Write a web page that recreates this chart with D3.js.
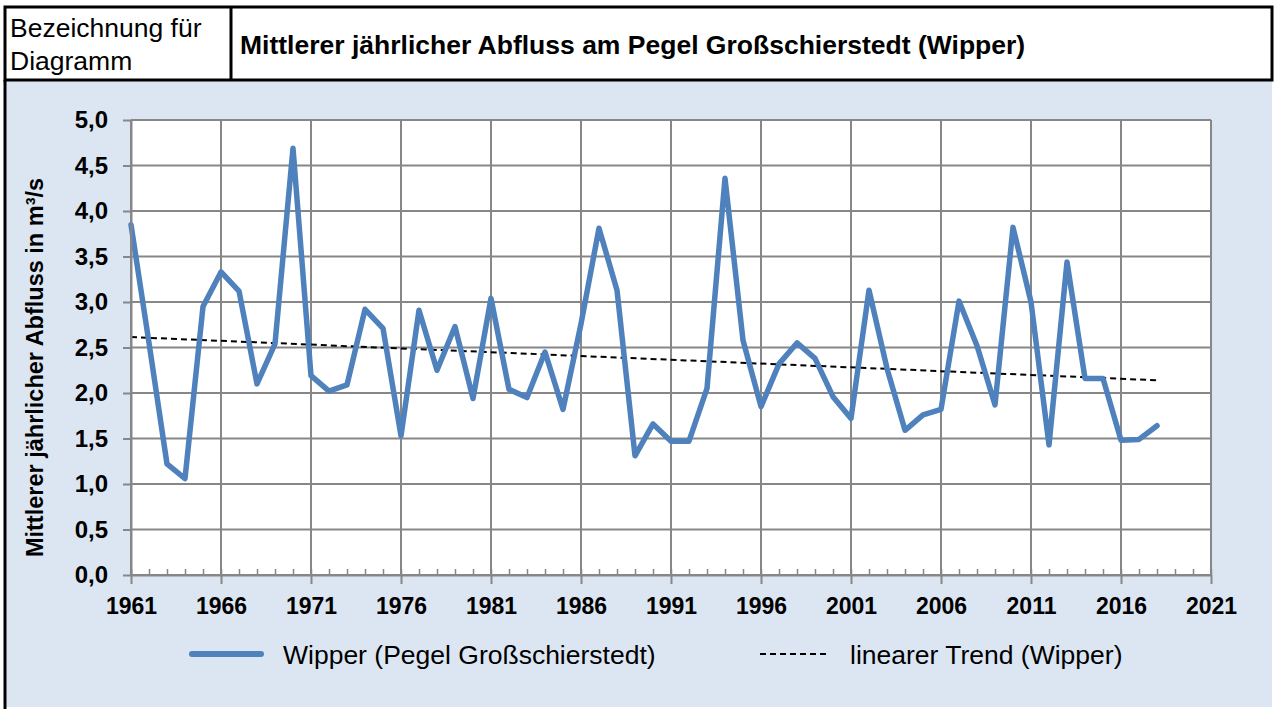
<!DOCTYPE html>
<html>
<head>
<meta charset="utf-8">
<script src="https://cdn.jsdelivr.net/npm/d3@7"></script>
<style>
  body { margin: 0; background: #fff; }
  svg { display: block; font-family: "Liberation Sans", Arial, sans-serif; }
</style>
</head>
<body>
<div id="chart"></div>
<script>
// Jahreswerte (Mittlerer jährlicher Abfluss, m³/s), 1961-2018
var years = d3.range(1961, 2019);
var abfluss = [
  3.85, 2.55, 1.22, 1.06, 2.95, 3.33, 3.12, 2.10, 2.54, 4.69,
  2.19, 2.02, 2.09, 2.92, 2.71, 1.53, 2.91, 2.25, 2.73, 1.94,
  3.04, 2.04, 1.95, 2.45, 1.82, 2.76, 3.81, 3.13, 1.31, 1.66,
  1.47, 1.47, 2.05, 4.36, 2.58, 1.85, 2.32, 2.55, 2.38, 1.96,
  1.72, 3.13, 2.27, 1.59, 1.76, 1.82, 3.01, 2.52, 1.87, 3.82,
  3.00, 1.43, 3.44, 2.16, 2.16, 1.48, 1.49, 1.64
];
// linearer Trend: Start- und Endwert
var trendYears = [1961, 2018];
var trendValues = [2.615, 2.14];

var xTicks = d3.range(1961, 2022, 5);
var yTicks = d3.range(0, 5.01, 0.5);

var headerLabel = ["Bezeichnung für", "Diagramm"];
var title = "Mittlerer jährlicher Abfluss am Pegel Großschierstedt (Wipper)";
var yTitle = "Mittlerer jährlicher Abfluss in m³/s";
var seriesName = "Wipper (Pegel Großschierstedt)";
var trendName = "linearer Trend (Wipper)";

var width = 1274, height = 709;
var svg = d3.select("#chart").append("svg")
  .attr("width", width)
  .attr("height", height);

// Hintergrund Diagrammbereich
svg.append("rect")
  .attr("x", 5).attr("y", 80)
  .attr("width", 1267).attr("height", 627)
  .attr("fill", "#dce6f2");
svg.append("line")
  .attr("x1", 5).attr("x2", 5).attr("y1", 80).attr("y2", 709)
  .attr("stroke", "#000").attr("stroke-width", 3);

// Kopfzeile
svg.append("rect")
  .attr("x", 5).attr("y", 7)
  .attr("width", 1267).attr("height", 73)
  .attr("fill", "#fff").attr("stroke", "#000").attr("stroke-width", 3);
svg.append("line")
  .attr("x1", 231).attr("x2", 231).attr("y1", 7).attr("y2", 80)
  .attr("stroke", "#000").attr("stroke-width", 3);
svg.append("text")
  .attr("x", 10).attr("y", 37)
  .style("font-size", "26.5px")
  .text(headerLabel[0]);
svg.append("text")
  .attr("x", 10).attr("y", 70)
  .style("font-size", "26.5px")
  .text(headerLabel[1]);
svg.append("text")
  .attr("x", 240).attr("y", 54)
  .style("font-size", "26.5px").style("font-weight", "bold")
  .text(title);

// Skalen
var plotLeft = 131, plotRight = 1211, plotTop = 120, plotBottom = 575;
var xScale = d3.scaleLinear().domain([1961, 2021]).range([plotLeft, plotRight]);
var yScale = d3.scaleLinear().domain([0, 5]).range([plotBottom, plotTop]);

var plot = svg.append("g");
plot.append("rect")
  .attr("x", plotLeft).attr("y", plotTop)
  .attr("width", plotRight - plotLeft).attr("height", plotBottom - plotTop)
  .attr("fill", "#fff");

// Gitternetz
plot.append("g").selectAll("line").data(yTicks).enter().append("line")
  .attr("x1", plotLeft).attr("x2", plotRight)
  .attr("y1", function(d){ return yScale(d); })
  .attr("y2", function(d){ return yScale(d); })
  .attr("stroke", "#878787").attr("stroke-width", 2);
plot.append("g").selectAll("line").data(xTicks).enter().append("line")
  .attr("x1", function(d){ return xScale(d); })
  .attr("x2", function(d){ return xScale(d); })
  .attr("y1", plotTop).attr("y2", plotBottom)
  .attr("stroke", "#878787").attr("stroke-width", 2);

// Achsen
var xMinor = svg.append("g")
  .attr("transform", "translate(0," + plotBottom + ")")
  .call(d3.axisBottom(xScale).tickValues(d3.range(1961, 2022)).tickSize(-6).tickFormat(""));
xMinor.selectAll("line").attr("stroke", "#878787").attr("stroke-width", 1.5);
xMinor.select(".domain").remove();

var xAxis = svg.append("g")
  .attr("transform", "translate(0," + plotBottom + ")")
  .call(d3.axisBottom(xScale).tickValues(xTicks).tickSize(9).tickSizeOuter(0).tickPadding(14).tickFormat(d3.format("d")));
xAxis.select(".domain").attr("stroke", "#878787").attr("stroke-width", 2);
xAxis.selectAll("line").attr("stroke", "#878787").attr("stroke-width", 2);
xAxis.selectAll("text")
  .attr("font-size", 23).attr("font-weight", "bold")
  .attr("font-family", "Liberation Sans, Arial, sans-serif")
  .attr("fill", "#000");

var yAxis = svg.append("g")
  .attr("transform", "translate(" + plotLeft + ",0)")
  .call(d3.axisLeft(yScale).tickValues(yTicks).tickSize(8).tickSizeOuter(0).tickPadding(15)
    .tickFormat(function(d){ return d3.format(".1f")(d).replace(".", ","); }));
yAxis.select(".domain").attr("stroke", "#878787").attr("stroke-width", 2);
yAxis.selectAll("line").attr("stroke", "#878787").attr("stroke-width", 2);
yAxis.selectAll("text")
  .attr("font-size", 24).attr("font-weight", "bold")
  .attr("font-family", "Liberation Sans, Arial, sans-serif")
  .attr("fill", "#000");

// Trendlinie
var trendData = trendYears.map(function(y, i){ return [y, trendValues[i]]; });
plot.append("path")
  .datum(trendData)
  .attr("d", d3.line()
    .x(function(d){ return xScale(d[0]); })
    .y(function(d){ return yScale(d[1]); }))
  .attr("fill", "none")
  .attr("stroke", "#000")
  .attr("stroke-width", 2)
  .attr("stroke-dasharray", "6,4");

// Messreihe
var data = years.map(function(y, i){ return [y, abfluss[i]]; });
plot.append("path")
  .datum(data)
  .attr("d", d3.line()
    .x(function(d){ return xScale(d[0]); })
    .y(function(d){ return yScale(d[1]); }))
  .attr("fill", "none")
  .attr("stroke", "#4f81bd")
  .attr("stroke-width", 5.5)
  .attr("stroke-linejoin", "round")
  .attr("stroke-linecap", "round");

// y-Achsentitel
svg.append("text")
  .attr("transform", "translate(43," + ((plotTop + plotBottom) / 2 + 20) + ") rotate(-90)")
  .style("text-anchor", "middle")
  .style("font-size", "23.5px").style("font-weight", "bold")
  .text(yTitle);

// Legende
var legend = svg.append("g");
legend.append("line")
  .attr("x1", 192).attr("x2", 261).attr("y1", 654).attr("y2", 654)
  .attr("stroke", "#4f81bd").attr("stroke-width", 6).attr("stroke-linecap", "round");
legend.append("text")
  .attr("x", 283).attr("y", 664)
  .style("font-size", "26.5px")
  .text(seriesName);
legend.append("line")
  .attr("x1", 760).attr("x2", 830).attr("y1", 654).attr("y2", 654)
  .attr("stroke", "#000").attr("stroke-width", 2).attr("stroke-dasharray", "6,4");
legend.append("text")
  .attr("x", 850).attr("y", 664)
  .style("font-size", "26.5px")
  .text(trendName);
</script>
</body>
</html>
